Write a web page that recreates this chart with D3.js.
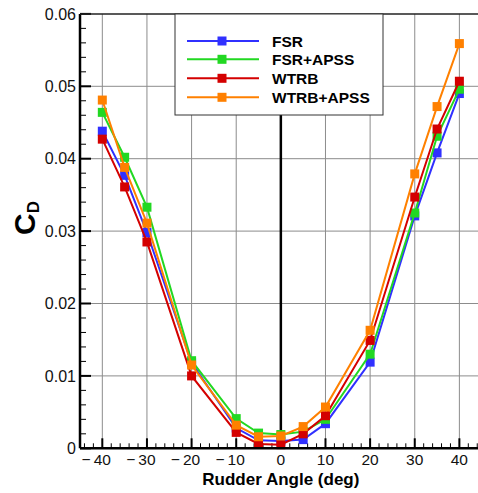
<!DOCTYPE html>
<html><head><meta charset="utf-8">
<script src="https://cdn.jsdelivr.net/npm/d3@7"></script>
<style>html,body{margin:0;padding:0;background:#fff;overflow:hidden}</style>
</head><body><div id="chart"></div>
<script>
const angles = [-40,-35,-30,-20,-10,-5,0,5,10,20,30,35,40];
const seriesNames = ["FSR","FSR+APSS","WTRB","WTRB+APSS"];
const fsr      = [0.0438,0.0377,0.0298,0.0118,0.0028,0.0011,0.0010,0.0012,0.0034,0.0119,0.0321,0.0408,0.0490];
const fsrApss  = [0.0464,0.0402,0.0333,0.0121,0.0041,0.0021,0.0019,0.0023,0.0040,0.0130,0.0325,0.0431,0.0496];
const wtrb     = [0.0427,0.0361,0.0285,0.0100,0.0022,0.0006,0.0005,0.0020,0.0045,0.0149,0.0347,0.0441,0.0507];
const wtrbApss = [0.0481,0.0388,0.0311,0.0115,0.0032,0.0016,0.0017,0.0030,0.0057,0.0163,0.0379,0.0472,0.0559];
const xTicks = [-40,-30,-20,-10,0,10,20,30,40];
const yTicks = [0,0.01,0.02,0.03,0.04,0.05,0.06];
const colors = ["#3030ff","#22d822","#d40000","#ff8000"];
const seriesValues = [fsr, fsrApss, wtrb, wtrbApss];

const W = 478, H = 493;
const svg = d3.select("#chart").append("svg").attr("width", W).attr("height", H)
  .style("font-family","'Liberation Sans', Arial, sans-serif");

const x = d3.scaleLinear().domain([-45,45]).range([80, 481.7]);
const y = d3.scaleLinear().domain([0,0.06]).range([448.3, 13.9]);
const x0 = x.range()[0], x1 = x.range()[1], yb = y.range()[0], yt = y.range()[1];

// gridlines
svg.append("g").selectAll("line").data(xTicks.filter(d=>d!==0)).join("line")
  .attr("x1",d=>x(d)).attr("x2",d=>x(d)).attr("y1",yt).attr("y2",yb)
  .attr("stroke","#8c8c8c").attr("stroke-width",1);
svg.append("g").selectAll("line").data(yTicks.filter(d=>d>0 && d<0.06)).join("line")
  .attr("x1",x0).attr("x2",x1).attr("y1",d=>y(d)).attr("y2",d=>y(d))
  .attr("stroke","#8c8c8c").attr("stroke-width",1);

// zero line
svg.append("line").attr("x1",x(0)).attr("x2",x(0)).attr("y1",yt).attr("y2",yb)
  .attr("stroke","#000").attr("stroke-width",2.5);

// minor ticks
const xMinor = d3.range(-44,45,2).filter(d=>d%10!==0);
svg.append("g").selectAll("line").data(xMinor).join("line")
  .attr("x1",d=>x(d)).attr("x2",d=>x(d)).attr("y1",yb).attr("y2",yb-5)
  .attr("stroke","#000").attr("stroke-width",1);
const yMinor = d3.range(1,30).map(i=>i*0.002).filter((d,i)=>(i+1)%5!==0);
svg.append("g").selectAll("line").data(yMinor).join("line")
  .attr("x1",x0).attr("x2",x0+6).attr("y1",d=>y(d)).attr("y2",d=>y(d))
  .attr("stroke","#000").attr("stroke-width",1);
// major ticks
svg.append("g").selectAll("line").data(xTicks).join("line")
  .attr("x1",d=>x(d)).attr("x2",d=>x(d)).attr("y1",yb).attr("y2",yb-10)
  .attr("stroke","#000").attr("stroke-width",2);
svg.append("g").selectAll("line").data(yTicks).join("line")
  .attr("x1",x0).attr("x2",x0+11).attr("y1",d=>y(d)).attr("y2",d=>y(d))
  .attr("stroke","#000").attr("stroke-width",2);

// series
const lineGen = d3.line().x(d=>x(d[0])).y(d=>y(d[1]));
seriesValues.forEach((vals,i)=>{
  const pts = angles.map((a,j)=>[a,vals[j]]);
  const g = svg.append("g");
  g.append("path").datum(pts).attr("d",lineGen).attr("fill","none")
    .attr("stroke",colors[i]).attr("stroke-width",2);
  g.selectAll("rect").data(pts).join("rect")
    .attr("x",d=>x(d[0])-4.5).attr("y",d=>y(d[1])-4.5).attr("width",9).attr("height",9)
    .attr("fill",colors[i]);
});

// axis frame
svg.append("line").attr("x1",x0).attr("x2",x1).attr("y1",yb).attr("y2",yb).attr("stroke","#000").attr("stroke-width",2.5);
svg.append("line").attr("x1",x0).attr("x2",x0).attr("y1",yt).attr("y2",yb).attr("stroke","#000").attr("stroke-width",2.5);
svg.append("line").attr("x1",x0).attr("x2",x1).attr("y1",yt).attr("y2",yt).attr("stroke","#222").attr("stroke-width",1.5);

// tick labels
const fs = 15.5, digitW = fs*0.556;
svg.append("g").selectAll("text").data(xTicks).join("text")
  .attr("x",d=>x(d) + String(Math.abs(d)).length*digitW/2)
  .attr("y",465).attr("text-anchor","end").attr("font-size",fs).attr("fill","#111")
  .text(d=> d<0 ? "\u2212\u2009"+Math.abs(d) : String(d));
const yFmt = d => d===0 ? "0" : d3.format(".2f")(d);
svg.append("g").selectAll("text").data(yTicks).join("text")
  .attr("x",76).attr("y",d=>y(d)+5.6).attr("text-anchor","end").attr("font-size",16).attr("fill","#111")
  .text(yFmt);

// axis titles
svg.append("text").attr("x",x(0)).attr("y",485).attr("text-anchor","middle")
  .attr("font-size",17).attr("font-weight","bold").text("Rudder Angle (deg)");
const yt2 = svg.append("text").attr("transform","translate(35,235) rotate(-90)")
  .attr("font-weight","bold").attr("text-anchor","start");
yt2.append("tspan").attr("font-size",30).text("C");
yt2.append("tspan").attr("font-size",17).attr("dy",4).text("D");

// legend
const lg = svg.append("g");
lg.append("rect").attr("x",175).attr("y",14).attr("width",208).attr("height",101)
  .attr("fill","#fff").attr("stroke","#333").attr("stroke-width",1);
const rows = [41,59.3,78.3,97.3];
seriesNames.forEach((n,i)=>{
  lg.append("line").attr("x1",187).attr("x2",259).attr("y1",rows[i]).attr("y2",rows[i])
    .attr("stroke",colors[i]).attr("stroke-width",2);
  lg.append("rect").attr("x",222-4.5).attr("y",rows[i]-4.5).attr("width",9).attr("height",9).attr("fill",colors[i]);
  lg.append("text").attr("x",272).attr("y",rows[i]+5.5).attr("font-size",15.5).attr("font-weight","bold").text(n);
});
</script></body></html>
